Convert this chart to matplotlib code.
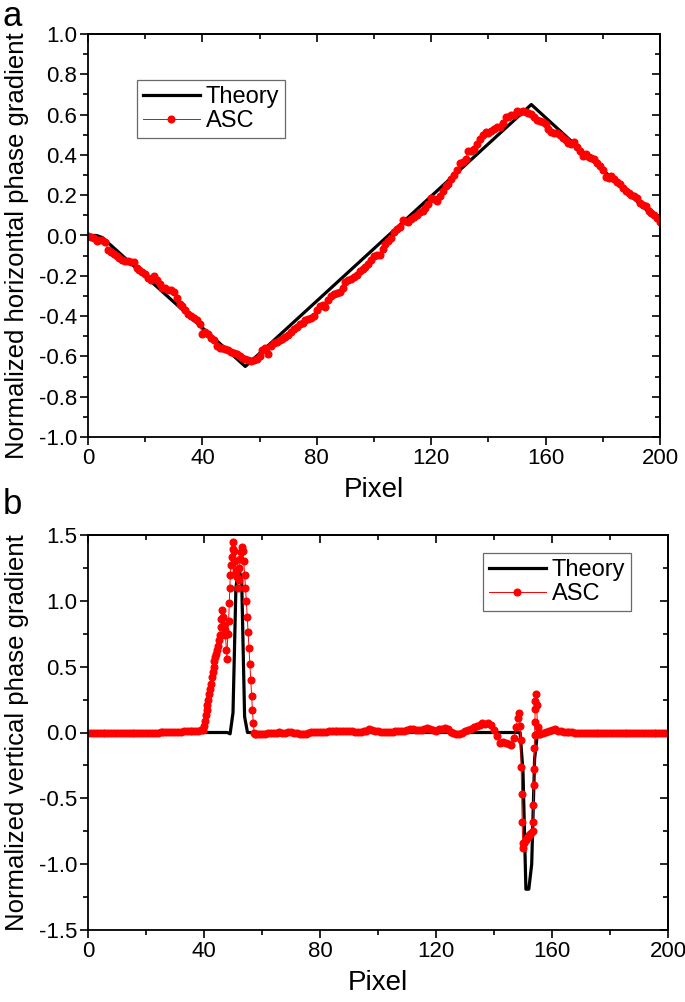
import numpy as np
import matplotlib
matplotlib.use("Agg")
import matplotlib.pyplot as plt
from matplotlib.ticker import MultipleLocator

plt.rcParams['font.family'] = ['Liberation Sans', 'DejaVu Sans']

# ---------------- Panel a data ----------------
theory_a_x = [0, 3, 5, 55, 155, 200]
theory_a_y = [0.0, 0.0, -0.01, -0.65, 0.65, 0.065]

asc_a_x = list(range(0, 201))
asc_a_y = [
    0.00, -0.005, -0.01, -0.025, -0.02, -0.02, -0.03, -0.07, -0.08, -0.09,
    -0.10, -0.11, -0.12, -0.125, -0.125, -0.13, -0.13, -0.16, -0.17, -0.18,
    -0.19, -0.21, -0.22, -0.20, -0.22, -0.24, -0.26, -0.26, -0.27, -0.27,
    -0.28, -0.31, -0.34, -0.35, -0.37, -0.39, -0.40, -0.41, -0.42, -0.44,
    -0.49, -0.48, -0.49, -0.51, -0.52, -0.55, -0.56, -0.56, -0.565, -0.57,
    -0.58, -0.585, -0.59, -0.60, -0.61, -0.615, -0.62, -0.625, -0.62, -0.615,
    -0.60, -0.57, -0.56, -0.59, -0.55, -0.535, -0.53, -0.52, -0.515, -0.505,
    -0.495, -0.48, -0.465, -0.455, -0.44, -0.435, -0.42, -0.415, -0.41, -0.40,
    -0.37, -0.35, -0.345, -0.355, -0.32, -0.30, -0.29, -0.285, -0.278, -0.26,
    -0.23, -0.22, -0.215, -0.205, -0.195, -0.175, -0.165, -0.158, -0.14, -0.124,
    -0.10, -0.096, -0.096, -0.065, -0.04, -0.025, -0.01, 0.015, 0.03, 0.041,
    0.079, 0.07, 0.066, 0.08, 0.09, 0.10, 0.119, 0.122, 0.135, 0.157,
    0.185, 0.18, 0.169, 0.195, 0.22, 0.245, 0.257, 0.28, 0.30, 0.323,
    0.36, 0.367, 0.38, 0.417, 0.417, 0.43, 0.455, 0.48, 0.50, 0.516,
    0.511, 0.52, 0.53, 0.537, 0.54, 0.56, 0.587, 0.59, 0.596, 0.60,
    0.62, 0.615, 0.62, 0.615, 0.61, 0.605, 0.59, 0.575, 0.57, 0.562,
    0.554, 0.53, 0.516, 0.51, 0.507, 0.50, 0.485, 0.475, 0.46, 0.455,
    0.463, 0.44, 0.42, 0.393, 0.405, 0.39, 0.384, 0.378, 0.36, 0.347,
    0.325, 0.29, 0.284, 0.296, 0.28, 0.265, 0.257, 0.235, 0.22, 0.212,
    0.202, 0.195, 0.185, 0.16, 0.15, 0.146, 0.124, 0.11, 0.10, 0.086,
    0.066,
]

# ---------------- Panel b data ----------------
theory_b_x = [0, 48, 49, 50, 51, 52, 53, 54, 55, 149, 150, 151, 152, 153, 154, 155, 200]
theory_b_y = [0.0, 0.0, -0.01, 0.15, 1.1, 1.25, 1.15, 0.12, 0.0, 0.0, -0.3, -1.19, -1.19, -1.0, -0.2, 0.0, 0.0]

asc_b_x = (
    list(range(0, 40))
    + [39.5, 40.0, 40.3, 40.6, 40.9, 41.2, 41.5, 41.8, 42.1, 42.4, 42.7, 43.0, 43.3, 43.6,
       43.9, 44.2, 44.5, 44.8, 45.1, 45.4, 45.7, 46.0, 46.2, 46.5, 46.8, 47.1, 47.4, 47.7,
       47.9, 48.2, 48.5, 48.7, 48.9, 49.1, 49.3, 49.6, 49.9, 50.1, 50.4, 50.7, 51.0, 51.3,
       51.6, 51.9, 52.2, 52.5, 52.8, 53.1, 53.4, 53.7, 54.0, 54.3, 54.6, 54.9, 55.2, 55.5,
       55.8, 56.1, 56.4, 56.7, 57.0, 57.3, 57.6]
    + list(range(58, 148))
    + [147.6, 148.2, 148.7, 149.0, 149.2, 149.35, 149.5, 149.7, 149.9, 150.1, 150.5, 150.9,
       151.3, 151.7, 152.1, 152.5, 152.9, 153.3, 153.5, 153.6, 153.7, 153.8, 153.9, 154.0,
       154.1, 154.2, 154.3, 154.5, 154.7, 155.0, 155.3, 155.6]
    + list(range(156, 201))
)
asc_b_y = (
    [0.0, 0.0, 0.0, 0.0, 0.0, 0.0, 0.0, 0.0, 0.0, 0.0,
     0.0, 0.0, 0.0, 0.0, 0.0, 0.0, 0.0, 0.0, 0.0, 0.0,
     0.0, 0.0, 0.0, 0.0, 0.0, 0.002, 0.002, 0.003, 0.004, 0.005,
     0.005, 0.006, 0.007, 0.008, 0.01, 0.01, 0.012, 0.013, 0.015, 0.018]
    + [0.02, 0.05, 0.09, 0.13, 0.17, 0.21, 0.25, 0.29, 0.33, 0.37, 0.42, 0.46, 0.50, 0.54,
       0.57, 0.60, 0.63, 0.66, 0.70, 0.74, 0.80, 0.86, 0.93, 0.88, 0.82, 0.78, 0.74, 0.63,
       0.56, 0.75, 0.85, 0.98, 1.10, 1.20, 1.27, 1.33, 1.39, 1.45, 1.38, 1.30, 1.23, 1.18,
       1.10, 1.16, 1.25, 1.32, 1.37, 1.41, 1.38, 1.30, 1.20, 1.10, 1.00, 0.88, 0.76, 0.64,
       0.52, 0.40, 0.28, 0.17, 0.07, 0.0, -0.01]
    + [-0.01, -0.012, -0.01, -0.008, -0.005, -0.003, 0.0, 0.0, 0.002, 0.0,
       0.0, 0.002, 0.003, 0.0, -0.005, -0.01, -0.012, -0.008, -0.002, 0.002,
       0.004, 0.005, 0.005, 0.006, 0.006, 0.008, 0.01, 0.008, 0.008, 0.01,
       0.01, 0.012, 0.01, 0.008, 0.006, 0.005, 0.005, 0.008, 0.015, 0.025,
       0.02, 0.012, 0.008, 0.006, 0.005, 0.003, 0.003, 0.005, 0.008, 0.01,
       0.012, 0.015, 0.02, 0.03, 0.028, 0.02, 0.018, 0.022, 0.03, 0.032,
       0.028, 0.02, 0.012, 0.025, 0.03, 0.035, 0.025, 0.005, 0.0, -0.01,
       -0.015, -0.005, 0.01, 0.02, 0.03, 0.04, 0.05, 0.06, 0.07, 0.065,
       0.07, 0.06, 0.02, -0.03, -0.08, -0.07, -0.08, -0.09, -0.095, -0.04]
    + [0.04, 0.11, 0.15, 0.05, -0.06, -0.26, -0.47, -0.68, -0.84, -0.88, -0.84, -0.82,
       -0.80, -0.79, -0.78, -0.77, -0.76, -0.75, -0.68, -0.55, -0.40, -0.28, -0.12, -0.02,
       0.08, 0.18, 0.24, 0.29, 0.21, 0.04, 0.0, -0.01]
    + [-0.01, 0.0, 0.005, 0.01, 0.02, 0.025, 0.015, 0.01, 0.005, 0.005,
       0.003, 0.002, 0.0, 0.0, 0.0, 0.0, 0.0, 0.0, 0.0, 0.0,
       0.0, 0.0, 0.0, 0.0, 0.0, 0.0, 0.0, 0.0, 0.0, 0.0,
       0.0, 0.0, 0.0, 0.0, 0.0, 0.0, 0.0, 0.0, 0.0, 0.0,
       0.0, 0.0, 0.0, 0.0, 0.0]
)

xticks = [0, 40, 80, 120, 160, 200]

W, H = 685, 1002
fig = plt.figure(figsize=(W / 100, H / 100), dpi=100)

ax1 = fig.add_axes([88 / W, 1 - 437 / H, (660 - 88) / W, (437 - 34) / H])
ax2 = fig.add_axes([88 / W, 1 - 930 / H, (668 - 88) / W, (930 - 535) / H])

line_kw = dict(color='black', lw=2.3, solid_joinstyle='round')
asc_kw = dict(color='red', lw=0.7, marker='o', ms=4.8, mfc='red', mec='red')

ax1.plot(theory_a_x, theory_a_y, label='Theory', **line_kw)
ax1.plot(asc_a_x, asc_a_y, label='ASC', **asc_kw)
ax2.plot(theory_b_x, theory_b_y, label='Theory', **line_kw)
ax2.plot(asc_b_x, asc_b_y, label='ASC', **asc_kw)

TICK_FS = 16
LAB_FS = 18.5

for ax, ylim, ymaj, ymin in [(ax1, (-1.0, 1.0), 0.2, 0.1), (ax2, (-1.5, 1.5), 0.5, 0.25)]:
    ax.set_xlim(0, 200)
    ax.set_ylim(*ylim)
    ax.set_xticks(xticks)
    ax.xaxis.set_minor_locator(MultipleLocator(20))
    ax.yaxis.set_major_locator(MultipleLocator(ymaj))
    ax.yaxis.set_minor_locator(MultipleLocator(ymin))
    ax.yaxis.set_major_formatter(matplotlib.ticker.FormatStrFormatter('%.1f'))
    for sp in ax.spines.values():
        sp.set_linewidth(1.3)
    ax.tick_params(which='both', direction='out', top=False, right=False, labelsize=TICK_FS, width=1.2, pad=2)
    ax.tick_params(which='major', length=6)
    ax.tick_params(which='minor', length=3.5)
    ax.set_xlabel('Pixel', fontsize=LAB_FS + 1.5, labelpad=6)
    # mirrored inward ticks on top/right
    sec_x = ax.secondary_xaxis('top')
    sec_x.set_xticks(xticks)
    sec_x.xaxis.set_minor_locator(MultipleLocator(20))
    sec_x.tick_params(which='both', direction='in', labeltop=False, width=1.2)
    sec_x.tick_params(which='major', length=6)
    sec_x.tick_params(which='minor', length=3.5)
    sec_x.spines['top'].set_linewidth(1.3)
    sec_y = ax.secondary_yaxis('right')
    sec_y.yaxis.set_major_locator(MultipleLocator(ymaj))
    sec_y.yaxis.set_minor_locator(MultipleLocator(ymin))
    sec_y.tick_params(which='both', direction='in', labelright=False, width=1.2)
    sec_y.tick_params(which='major', length=6)
    sec_y.tick_params(which='minor', length=3.5)
    sec_y.spines['right'].set_linewidth(1.3)

ax1.set_ylabel('Normalized horizontal phase gradient', fontsize=LAB_FS)
ax2.set_ylabel('Normalized vertical phase gradient', fontsize=LAB_FS)
ax1.yaxis.set_label_coords((29 - 88) / 572, (437 - 246) / 403)
ax2.yaxis.set_label_coords((29 - 88) / 580, 0.5)

leg_kw = dict(fontsize=17, frameon=True, fancybox=False, edgecolor='#444444', handlelength=2.4,
              handletextpad=0.25, borderpad=0.25, labelspacing=0.1, borderaxespad=0)
leg1 = ax1.legend(loc='upper left', bbox_to_anchor=(49 / 572, 1 - 46 / 403), **leg_kw)
leg1.get_frame().set_linewidth(0.9)
leg2 = ax2.legend(loc='upper left', bbox_to_anchor=(395 / 580, 1 - 18 / 395), **leg_kw)
leg2.get_frame().set_linewidth(0.9)

fig.text(3 / W, 1 - 16 / H, 'a', fontsize=25, va='center', ha='left')
fig.text(3 / W, 1 - 505 / H, 'b', fontsize=25, va='center', ha='left')

fig.savefig('out.png', dpi=100)
